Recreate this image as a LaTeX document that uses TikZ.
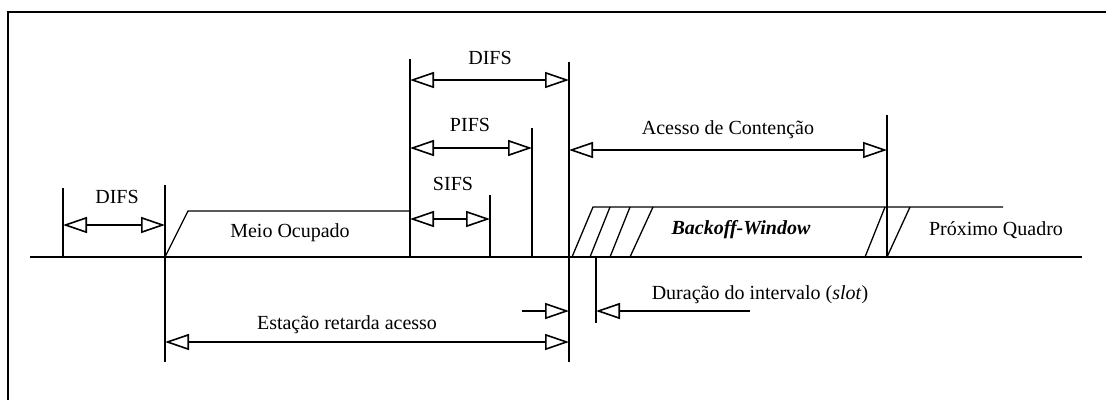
\documentclass[tikz,border=0pt]{standalone}
\usepackage{fontspec}
\setmainfont{Liberation Serif}
\usetikzlibrary{arrows.meta}
\begin{document}
\begin{tikzpicture}[x=1pt,y=-1pt,
  ln/.style={line width=1.3pt},
  tip/.tip={Triangle[open,length=24pt,width=16pt,line width=1.6pt]},
  dimboth/.style={line width=2pt,{tip}-{tip}},
  dimend/.style={line width=1.5pt,-{tip}},
  lbl/.style={font=\fontsize{20}{22}\selectfont, inner sep=0pt}]
\useasboundingbox (0,0) rectangle (1106,400);
% frame
\draw[line width=2pt] (8,400) -- (8,12) -- (1106,12);
% key coordinates
\coordinate (b0) at (30,257);
\coordinate (b1) at (1082,257);
\foreach \n/\x/\yt/\yb in {va/63/188/257, vb/165/185/362, vc/410/59/257, vd/490/195/257,
    ve/532/128/257, vf/569/62/362, vg/596/257/323, vh/887/115/257}{
  \coordinate (\n t) at (\x,\yt);
  \coordinate (\n b) at (\x,\yb);
  \draw[ln] (\n t) -- (\n b);
}
\draw[line width=1.6pt] (b0) -- (b1);
% busy medium
\coordinate (m1) at (165,257); \coordinate (m2) at (188,211); \coordinate (m3) at (410,211);
\draw[ln] (m1) -- (m2) -- (m3);
% backoff window
\coordinate (w1) at (572,257); \coordinate (w2) at (593,207); \coordinate (w3) at (1003,207);
\draw[ln] (w1) -- (w2) -- (w3);
\foreach \xb/\xt in {590/610, 610/630, 630/653, 865/885, 887/910}{
  \draw[ln] (\xb,257) -- (\xt,207);
}
% dimension arrows
\coordinate (d1a) at (63,225);  \coordinate (d1b) at (165,225);
\coordinate (d2a) at (410,80);  \coordinate (d2b) at (569,80);
\coordinate (d3a) at (410,148); \coordinate (d3b) at (532,148);
\coordinate (d4a) at (410,219); \coordinate (d4b) at (490,219);
\coordinate (d5a) at (569,150); \coordinate (d5b) at (887,150);
\coordinate (d6a) at (165,342); \coordinate (d6b) at (569,342);
\coordinate (d7a) at (522,311); \coordinate (d7b) at (569,311);
\coordinate (d8a) at (750,311); \coordinate (d8b) at (596,311);
\draw[dimboth] (d1a) -- (d1b);
\draw[dimboth] (d2a) -- (d2b);
\draw[dimboth] (d3a) -- (d3b);
\draw[dimboth] (d4a) -- (d4b);
\draw[dimboth] (d5a) -- (d5b);
\draw[dimboth] (d6a) -- (d6b);
\draw[dimend] (d7a) -- (d7b);
\draw[dimend] (d8a) -- (d8b);
% labels
\node[lbl] (t1) at (117,197) {DIFS};
\node[lbl] (t2) at (490,58) {DIFS};
\node[lbl] (t3) at (470,125) {PIFS};
\node[lbl] (t4) at (453,184) {SIFS};
\node[lbl] (t5) at (290,233) {Meio Ocupado};
\node[lbl] (t6) at (728,130) {Acesso de Contenção};
\node[lbl] (t7) at (741,230) {\bfseries\itshape Backoff-Window};
\node[lbl] (t8) at (996,230) {Próximo Quadro};
\node[lbl] (t9) at (347,325) {Estação retarda acesso};
\node[lbl] (t10) at (760,295) {Duração do intervalo (\textit{slot})};
\end{tikzpicture}
\end{document}
